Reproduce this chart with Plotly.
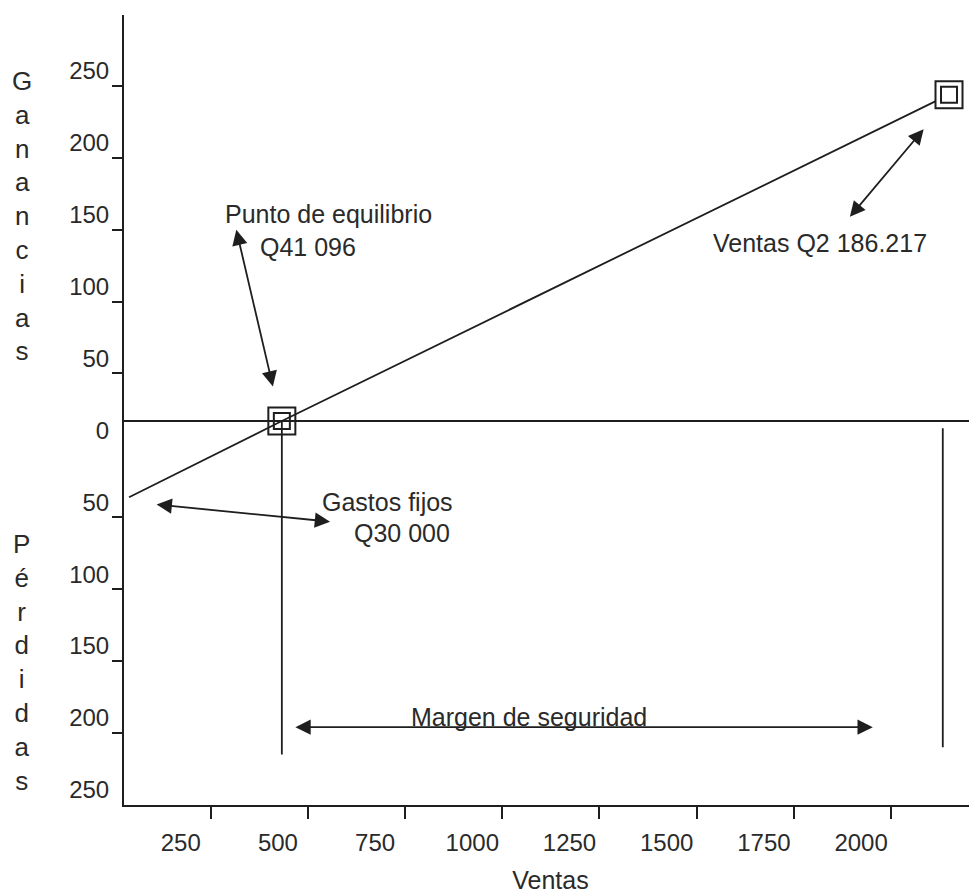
import plotly.graph_objects as go

# ---------------- data ----------------
ventas_ticks = [250, 500, 750, 1000, 1250, 1500, 1750, 2000]
y_mark_vals = [250, 200, 150, 100, 50, -50, -100, -150, -200]
y_label_vals = [250, 200, 150, 100, 50, 0, -50, -100, -150, -200, -250]
y_label_text = ["250", "200", "150", "100", "50", "0", "50", "100", "150", "200", "250"]

# profit line: left end, break-even, sales point
profit_x = [40, 433, 2149]
profit_y = [-53, 0, 227]
point_x = [433, 2149]
point_y = [0, 227]

# vertical guide lines
breakeven_line_x = [433, 433]
breakeven_line_y = [0, -232]
ventas_line_x = [2133, 2133]
ventas_line_y = [-5, -227]

# double-headed arrows: (x_start, y_start, x_end, y_end)
arrow_punto = (315, 134, 410, 24)
arrow_ventas = (2087, 204, 1894, 142)
arrow_gastos = (107, -58, 557, -70)
arrow_margen = (464, -213, 1953, -213)

INK = "#1e1e1e"
TXT = "#2a2a2a"
FONT = "Liberation Sans, Arial, sans-serif"

fig = go.Figure()

fig.add_trace(go.Scatter(x=profit_x, y=profit_y, mode="lines",
                         line=dict(color=INK, width=1.8), showlegend=False, hoverinfo="skip"))
fig.add_trace(go.Scatter(x=breakeven_line_x, y=breakeven_line_y, mode="lines",
                         line=dict(color=INK, width=1.8), showlegend=False, hoverinfo="skip"))
fig.add_trace(go.Scatter(x=ventas_line_x, y=ventas_line_y, mode="lines",
                         line=dict(color=INK, width=1.8), showlegend=False, hoverinfo="skip"))
# double squares
fig.add_trace(go.Scatter(x=point_x, y=point_y, mode="markers",
                         marker=dict(symbol="square", size=27,
                                     color=["rgba(0,0,0,0)", "white"],
                                     line=dict(color=INK, width=2)),
                         showlegend=False, hoverinfo="skip"))
fig.add_trace(go.Scatter(x=point_x, y=point_y, mode="markers",
                         marker=dict(symbol="square-open", size=16,
                                     color=INK, line=dict(color=INK, width=2)),
                         showlegend=False, hoverinfo="skip"))

# dummy traces to activate overlay axes
fig.add_trace(go.Scatter(x=[None], y=[None], yaxis="y2", showlegend=False, hoverinfo="skip"))
fig.add_trace(go.Scatter(x=[None], y=[None], yaxis="y3", showlegend=False, hoverinfo="skip"))

# zero line
fig.add_shape(type="line", xref="x domain", yref="y", x0=0, x1=1, y0=0, y1=0,
              line=dict(color=INK, width=2))

def arrow(a):
    x0, y0, x1, y1 = a
    fig.add_annotation(x=x1, y=y1, ax=x0, ay=y0, xref="x", yref="y", axref="x", ayref="y",
                       text="", showarrow=True, arrowhead=2, arrowsize=1.7, arrowwidth=1.8,
                       arrowcolor=INK, arrowside="end+start", standoff=0, startstandoff=0)

for a in (arrow_punto, arrow_ventas, arrow_gastos, arrow_margen):
    arrow(a)

def label(text, x, y):
    fig.add_annotation(x=x, y=y, xref="x", yref="y", text=text, showarrow=False,
                       xanchor="left", yanchor="middle",
                       font=dict(family=FONT, size=25, color=TXT))

label("Punto de equilibrio", 282, 144)
label("Q41 096", 372, 121)
label("Gastos fijos", 531, -56)
label("Q30 000", 613, -78)
label("Ventas Q2 186.217", 1537, 124)
label("Margen de seguridad", 760, -206)

# stacked vertical titles
fig.add_annotation(xref="paper", yref="paper", x=-0.12, y=0.746, showarrow=False,
                   text="<br>".join("Ganancias"), xanchor="center", yanchor="middle",
                   font=dict(family=FONT, size=26, color=TXT))
fig.add_annotation(xref="paper", yref="paper", x=-0.12, y=0.180, showarrow=False,
                   text="<br>".join("Pérdidas"), xanchor="center", yanchor="middle",
                   font=dict(family=FONT, size=26, color=TXT))

fig.update_layout(
    width=969, height=886,
    margin=dict(l=116, r=0, t=7, b=89),
    paper_bgcolor="white", plot_bgcolor="white",
    showlegend=False,
    xaxis=dict(range=[27, 2221], showgrid=False, zeroline=False,
               showline=True, linecolor=INK, linewidth=2,
               ticks="outside", ticklen=12, tickwidth=2, tickcolor=INK,
               tickvals=ventas_ticks, ticktext=[str(v) for v in ventas_ticks],
               ticklabelshift=-30, ticklabelstandoff=3,
               tickfont=dict(family=FONT, size=24, color=TXT),
               title=dict(text="Ventas", standoff=18,
                          font=dict(family=FONT, size=25, color=TXT))),
    yaxis=dict(range=[-267.1, 282.4], showgrid=False, zeroline=False,
               showline=True, linecolor=INK, linewidth=2,
               ticks="", showticklabels=False),
    yaxis2=dict(range=[-250.1, 299.3], overlaying="y", side="left",
                showgrid=False, zeroline=False, showline=False,
                ticks="outside", ticklen=11, tickwidth=2, tickcolor=INK,
                tickvals=y_mark_vals, showticklabels=False),
    yaxis3=dict(range=[-250.1, 299.3], overlaying="y", side="left",
                showgrid=False, zeroline=False, showline=False,
                ticks="outside", ticklen=11, tickcolor="rgba(0,0,0,0)",
                tickvals=y_label_vals, ticktext=y_label_text,
                ticklabelshift=-15, ticklabelstandoff=-2,
                tickfont=dict(family=FONT, size=24, color=TXT)),
)

fig.write_html("out.html")
